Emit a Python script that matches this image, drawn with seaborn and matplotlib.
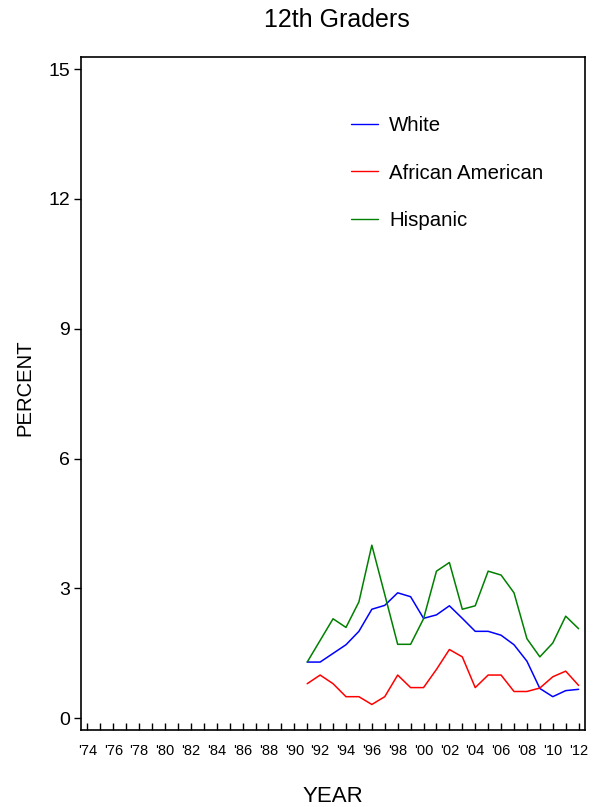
import numpy as np
import pandas as pd
import matplotlib
matplotlib.use('Agg')
import matplotlib.pyplot as plt
import seaborn as sns

years = list(range(1991, 2013))
white = [1.30, 1.30, 1.50, 1.70, 2.01, 2.52, 2.61, 2.90, 2.81, 2.31, 2.39,
         2.60, 2.31, 2.01, 2.01, 1.92, 1.70, 1.32, 0.69, 0.50, 0.64, 0.67]
african_american = [0.80, 1.00, 0.80, 0.50, 0.50, 0.32, 0.50, 1.00, 0.71, 0.71, 1.13,
                    1.59, 1.42, 0.71, 1.00, 1.00, 0.62, 0.62, 0.70, 0.96, 1.09, 0.76]
hispanic = [1.30, 1.80, 2.30, 2.10, 2.69, 4.00, 2.86, 1.71, 1.71, 2.30, 3.40,
            3.60, 2.52, 2.60, 3.40, 3.31, 2.90, 1.84, 1.42, 1.74, 2.36, 2.07]
groups = ['White', 'African American', 'Hispanic']
colors = ['#0000ff', '#ff0000', '#008000']
tick_years = list(range(1974, 2013))
y_ticks = [0, 3, 6, 9, 12, 15]

df = pd.DataFrame({
    'year': years * 3,
    'percent': white + african_american + hispanic,
    'group': [g for g in groups for _ in years],
})

sns.set_style('ticks')
plt.rcParams['font.family'] = ['Liberation Sans', 'DejaVu Sans']
plt.rcParams['text.color'] = 'black'
plt.rcParams['xtick.color'] = 'black'
plt.rcParams['ytick.color'] = 'black'

fig = plt.figure(figsize=(5.94, 8.07), dpi=100)
ax = fig.add_axes([0.1364, 0.0954, 0.8486, 0.834])

sns.lineplot(data=df, x='year', y='percent', hue='group', hue_order=groups,
             palette=colors, linewidth=1.1, ax=ax)

ax.set_xlim(1973.5, 2012.5)
ax.set_ylim(-0.27, 15.28)
ax.set_yticks(y_ticks)
ax.set_yticklabels([str(v) for v in y_ticks], fontsize=14)
ax.set_xticks(tick_years)
ax.set_xticklabels(["'" + str(y)[2:] if y % 2 == 0 else '' for y in tick_years], fontsize=10.5)
ax.tick_params(axis='x', direction='in', length=5, width=1, pad=10)
ax.tick_params(axis='y', direction='out', length=5, width=1, pad=3)
for s in ax.spines.values():
    s.set_visible(True)
    s.set_linewidth(1.2)
    s.set_color('black')

ax.set_xlabel('')
ax.set_ylabel('')
fig.text(333 / 594, 1 - 796 / 807, 'YEAR', fontsize=16, ha='center', va='center')
fig.text(25 / 594, 1 - 388 / 807, 'PERCENT', fontsize=14.6, rotation=90,
         ha='center', va='center')
fig.text(337 / 594, 1 - 20 / 807, '12th Graders', fontsize=18, ha='center', va='center')

leg = ax.legend(loc='upper left', bbox_to_anchor=(0.499, 0.939), frameon=False,
                fontsize=14.7, handlelength=1.32, labelspacing=1.38, handletextpad=0.54)
for line in leg.get_lines():
    line.set_linewidth(1.0)

fig.savefig('out.png', dpi=100)
